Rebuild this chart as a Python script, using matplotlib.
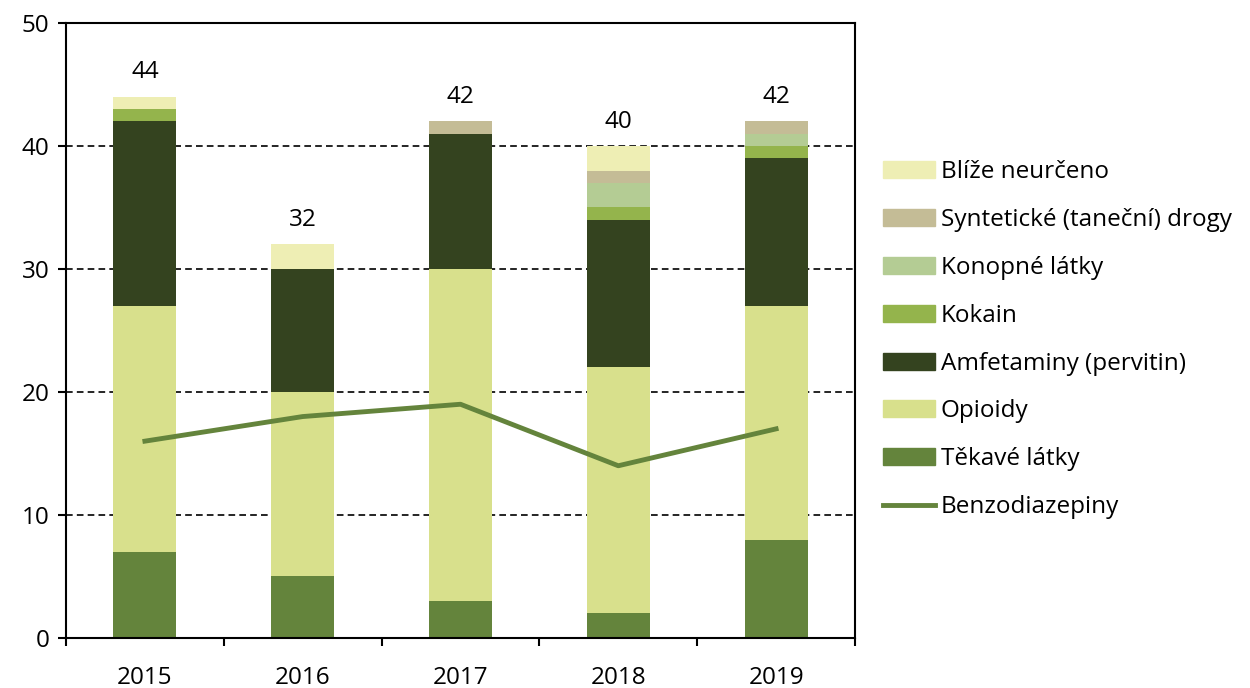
import numpy as np
import matplotlib.pyplot as plt
from matplotlib.patches import Patch
from matplotlib.lines import Line2D

plt.rcParams['font.family'] = ['Open Sans', 'DejaVu Sans']

roky = ['2015', '2016', '2017', '2018', '2019']

# hodnoty vrstev (odspodu nahoru)
tekave = [7, 5, 3, 2, 8]
opioidy = [20, 15, 27, 20, 19]
amfetaminy = [15, 10, 11, 12, 12]
kokain = [1, 0, 0, 1, 1]
konopne = [0, 0, 0, 2, 1]
synteticke = [0, 0, 1, 1, 1]
blize = [1, 2, 0, 2, 0]
benzodiazepiny = [16, 18, 19, 14, 17]

vrstvy = [
    ('Těkavé látky', tekave, '#64843c'),
    ('Opioidy', opioidy, '#d8e08c'),
    ('Amfetaminy (pervitin)', amfetaminy, '#34431f'),
    ('Kokain', kokain, '#94b44c'),
    ('Konopné látky', konopne, '#b4cc94'),
    ('Syntetické (taneční) drogy', synteticke, '#c4bc96'),
    ('Blíže neurčeno', blize, '#eeeeb4'),
]
barva_cary = '#64843c'
fs = 17.5

fig = plt.figure(figsize=(12.5, 6.88), dpi=100)
ax = fig.add_axes([0.0528, 0.0727, 0.6312, 0.894])

x = np.arange(len(roky))
spodek = np.zeros(len(roky))
for nazev, hodnoty, barva in vrstvy:
    ax.bar(x, hodnoty, width=0.4, bottom=spodek, color=barva, zorder=2)
    spodek += np.array(hodnoty)

ax.plot(x, benzodiazepiny, color=barva_cary, lw=3.5, zorder=3)

for xi, celkem in zip(x, spodek):
    ax.text(xi, celkem + 1.0, f'{int(celkem)}', ha='center', va='bottom', fontsize=fs)

ax.set_xlim(-0.5, len(roky) - 0.5)
ax.set_ylim(0, 50)
ax.set_yticks(range(0, 51, 10))
ax.tick_params(axis='y', labelsize=fs, length=6, width=1.5, direction='out', pad=6)
ax.set_xticks(np.arange(-0.5, len(roky)), minor=False)
ax.set_xticklabels([])
ax.set_xticks(x, minor=True)
ax.set_xticklabels(roky, minor=True)
ax.tick_params(axis='x', which='major', length=6, width=1.5, direction='out')
ax.tick_params(axis='x', which='minor', length=0, labelsize=fs, pad=20)

for y in [10, 20, 30, 40]:
    ax.axhline(y, color='black', ls=(0, (4, 2.5)), lw=1.2, zorder=1)

for s in ax.spines.values():
    s.set_linewidth(1.5)

handles = [Patch(color=b) for _, _, b in vrstvy[::-1]]
handles.append(Line2D([0], [0], color=barva_cary, lw=3.5))
labels = [n for n, _, _ in vrstvy[::-1]] + ['Benzodiazepiny']
fig.legend(handles, labels, loc='upper left', bbox_to_anchor=(0.706, 0.767),
           frameon=False, fontsize=fs, handlelength=2.15, handleheight=0.7,
           handletextpad=0.25, labelspacing=0.98, borderaxespad=0, borderpad=0)

fig.savefig('out.png', dpi=100)
